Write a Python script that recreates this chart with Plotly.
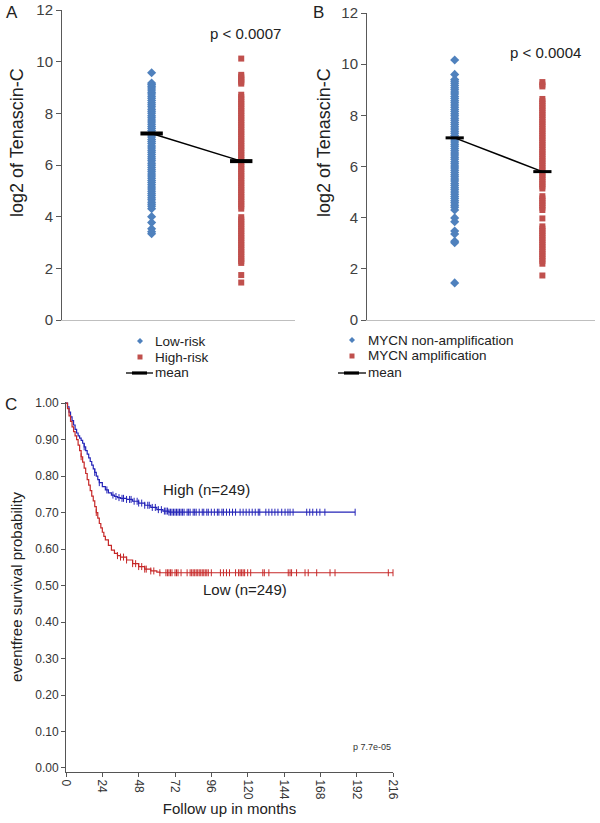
import plotly.graph_objects as go

# ---------------- Data ----------------
# Panel A: log2 Tenascin-C by risk group
lowrisk_A = [9.57, 9.17, 9.12, 9.05, 8.98, 8.9, 8.82, 8.75, 8.66, 8.58, 8.5, 8.41, 8.33, 8.25, 8.16,
             8.08, 8.0, 7.91, 7.83, 7.74, 7.66, 7.58, 7.49, 7.41, 7.33, 7.24, 7.16, 7.08, 6.99, 6.91,
             6.83, 6.74, 6.66, 6.57, 6.49, 6.41, 6.32, 6.24, 6.16, 6.07, 5.99, 5.9, 5.82, 5.74, 5.65,
             5.57, 5.49, 5.4, 5.32, 5.24, 5.15, 5.07, 4.98, 4.9, 4.82, 4.73, 4.65, 4.56, 4.48, 4.4,
             4.31, 4.0, 3.77, 3.53, 3.42, 3.34]
highrisk_A = [10.12, 9.49, 9.42, 9.35, 9.28, 9.22, 9.15, 8.72, 8.63, 8.54, 8.45, 8.36, 8.27, 8.18,
              8.09, 8.0, 7.91, 7.82, 7.73, 7.64, 7.55, 7.46, 7.37, 7.28, 7.19, 7.1, 7.01, 6.92, 6.83,
              6.74, 6.65, 6.56, 6.47, 6.38, 6.29, 6.2, 6.11, 6.02, 5.93, 5.84, 5.75, 5.66, 5.57, 5.48,
              5.39, 5.3, 5.21, 5.12, 5.03, 4.94, 4.85, 4.76, 4.67, 4.58, 4.49, 4.4, 4.31, 3.98, 3.89,
              3.8, 3.71, 3.62, 3.53, 3.44, 3.35, 3.26, 3.17, 3.08, 2.99, 2.9, 2.81, 2.72, 2.63, 2.54,
              2.45, 2.36, 2.28, 2.21, 1.74, 1.45]
means_A = [7.22, 6.15]
labels_A = ["Low-risk", "High-risk", "mean"]
pval_A = "p < 0.0007"

# Panel B: log2 Tenascin-C by MYCN status
nonamp_B = [10.16, 9.6, 9.4, 9.33, 9.25, 9.17, 9.08, 9.0, 8.91, 8.83, 8.74, 8.66, 8.57, 8.49, 8.4,
            8.32, 8.23, 8.15, 8.06, 7.98, 7.89, 7.81, 7.72, 7.64, 7.55, 7.47, 7.38, 7.3, 7.21, 7.13,
            7.04, 6.96, 6.87, 6.79, 6.7, 6.62, 6.53, 6.45, 6.36, 6.28, 6.19, 6.11, 6.02, 5.94, 5.85,
            5.77, 5.68, 5.6, 5.51, 5.43, 5.34, 5.26, 5.17, 5.09, 5.0, 4.92, 4.83, 4.75, 4.66, 4.58,
            4.49, 4.41, 4.3, 3.99, 3.84, 3.48, 3.36, 3.08, 3.02, 1.45]
amp_B = [9.3, 9.2, 9.13, 8.64, 8.55, 8.46, 8.37, 8.28, 8.19, 8.1, 8.01, 7.92, 7.83, 7.74, 7.65,
         7.56, 7.47, 7.38, 7.29, 7.2, 7.11, 7.02, 6.93, 6.84, 6.75, 6.66, 6.57, 6.48, 6.39, 6.3,
         6.21, 6.12, 6.03, 5.94, 5.85, 5.76, 5.67, 5.58, 5.49, 5.4, 5.31, 5.22, 5.14, 4.84, 4.75,
         4.66, 4.57, 4.48, 4.39, 4.3, 3.97, 3.66, 3.57, 3.48, 3.39, 3.3, 3.21, 3.12, 3.03, 2.94,
         2.85, 2.76, 2.67, 2.58, 2.49, 2.4, 2.31, 2.2, 1.74]
means_B = [7.12, 5.8]
labels_B = ["MYCN non-amplification", "MYCN amplification", "mean"]
pval_B = "p < 0.0004"

# Panel C: Kaplan-Meier event-free survival
high_times = [0, 1, 2, 3, 4, 5, 6, 7, 8, 9, 10, 11, 12, 13, 14, 15, 16, 17, 18, 19, 20, 21, 22,
              24, 26, 28, 30, 32, 34, 36, 40, 44, 48, 52, 56, 60, 64, 68, 191]
high_surv = [1.0, 0.99, 0.975, 0.962, 0.952, 0.94, 0.928, 0.918, 0.91, 0.904, 0.898, 0.89, 0.88,
             0.87, 0.86, 0.85, 0.84, 0.83, 0.82, 0.81, 0.8, 0.79, 0.782, 0.771, 0.762, 0.754,
             0.748, 0.744, 0.741, 0.739, 0.736, 0.731, 0.726, 0.72, 0.714, 0.708, 0.704, 0.701,
             0.701]
high_censor = [12, 19, 22, 27, 31, 33, 35, 37, 38, 40, 42, 43, 45, 47, 48, 50, 52, 54, 55, 57, 59,
               61, 63, 65, 66, 67, 68, 69, 70, 71, 72, 73, 74, 75, 76, 77, 78, 80, 81, 82, 84, 85,
               86, 88, 90, 91, 93, 94, 96, 98, 100, 101, 103, 104, 106, 108, 110, 112, 115, 117,
               119, 121, 123, 125, 127, 128, 132, 134, 136, 138, 140, 142.5, 144.7, 146.6, 148,
               150, 159, 161, 163, 165.6, 167.7, 171, 191]
low_times = [0, 1, 2, 3, 4, 5, 6, 7, 8, 9, 10, 11, 12, 13, 14, 15, 16, 17, 18, 19, 20, 21, 22, 23,
             24, 25, 26, 28, 30, 32, 34, 36, 40, 44, 48, 52, 56, 60, 62, 216]
low_surv = [1.0, 0.985, 0.965, 0.95, 0.935, 0.922, 0.91, 0.9, 0.885, 0.87, 0.853, 0.838, 0.822,
            0.807, 0.79, 0.775, 0.76, 0.745, 0.732, 0.716, 0.7, 0.685, 0.67, 0.658, 0.646, 0.635,
            0.625, 0.61, 0.597, 0.588, 0.582, 0.578, 0.57, 0.56, 0.552, 0.545, 0.54, 0.537,
            0.535, 0.535]
low_censor = [10, 20, 34, 36, 38, 40, 44, 46, 48, 50, 52, 53, 56, 58, 62, 66, 67, 68, 69, 70, 72,
              73, 74, 76, 80, 82, 83, 84, 85, 86, 87, 88, 89, 90, 91, 92, 93, 94, 96, 102, 104,
              106, 108, 112, 114, 115, 116, 117, 118, 120, 122, 130, 131, 134, 146.8, 148, 149,
              152.3, 157.9, 160, 165.6, 174.4, 177.7, 212.9, 216]
x_ticks_C = [0, 24, 48, 72, 96, 120, 144, 168, 192, 216]
y_ticks_C = [0.0, 0.1, 0.2, 0.3, 0.4, 0.5, 0.6, 0.7, 0.8, 0.9, 1.0]
pval_C = "p 7.7e-05"


def step_value(times, surv, t):
    v = surv[0]
    for ti, si in zip(times, surv):
        if ti <= t:
            v = si
    return v


# ---------------- Styles ----------------
FONT = "Liberation Sans, Arial, sans-serif"
BLUE = "#4F81BD"
RED = "#C0504D"
KM_BLUE = "#2424B8"
KM_RED = "#C62828"
W, H = 600, 823


def px(xp):
    return xp / W


def py(yp):
    return 1 - yp / H


fig = go.Figure()

# Panel A
fig.add_trace(go.Scatter(x=[1] * len(lowrisk_A), y=lowrisk_A, mode="markers", name=labels_A[0],
                         marker=dict(symbol="diamond", size=7, color=BLUE), xaxis="x", yaxis="y"))
fig.add_trace(go.Scatter(x=[2] * len(highrisk_A), y=highrisk_A, mode="markers", name=labels_A[1],
                         marker=dict(symbol="square", size=6, color=RED), xaxis="x", yaxis="y"))
fig.add_trace(go.Scatter(x=[1, 2], y=means_A, mode="lines+markers", name="mean",
                         line=dict(color="black", width=1.5),
                         marker=dict(symbol="line-ew", size=16, color="black",
                                     line=dict(color="black", width=4)),
                         xaxis="x", yaxis="y"))

# Panel B
fig.add_trace(go.Scatter(x=[1] * len(nonamp_B), y=nonamp_B, mode="markers", name=labels_B[0],
                         marker=dict(symbol="diamond", size=7, color=BLUE), xaxis="x2", yaxis="y2"))
fig.add_trace(go.Scatter(x=[2] * len(amp_B), y=amp_B, mode="markers", name=labels_B[1],
                         marker=dict(symbol="square", size=6, color=RED), xaxis="x2", yaxis="y2"))
fig.add_trace(go.Scatter(x=[1, 2], y=means_B, mode="lines+markers", name="mean",
                         line=dict(color="black", width=1.5),
                         marker=dict(symbol="line-ew", size=13, color="black",
                                     line=dict(color="black", width=3)),
                         xaxis="x2", yaxis="y2"))

# Panel C
fig.add_trace(go.Scatter(x=high_times, y=high_surv, mode="lines", name="High",
                         line=dict(color=KM_BLUE, width=1.2, shape="hv"),
                         xaxis="x3", yaxis="y3", cliponaxis=False))
fig.add_trace(go.Scatter(x=low_times, y=low_surv, mode="lines", name="Low",
                         line=dict(color=KM_RED, width=1.2, shape="hv"),
                         xaxis="x3", yaxis="y3", cliponaxis=False))
fig.add_trace(go.Scatter(x=high_censor, y=[step_value(high_times, high_surv, t) for t in high_censor],
                         mode="markers", name="High censored",
                         marker=dict(symbol="line-ns", size=5, color=KM_BLUE,
                                     line=dict(color=KM_BLUE, width=1)),
                         xaxis="x3", yaxis="y3", cliponaxis=False))
fig.add_trace(go.Scatter(x=low_censor, y=[step_value(low_times, low_surv, t) for t in low_censor],
                         mode="markers", name="Low censored",
                         marker=dict(symbol="line-ns", size=5, color=KM_RED,
                                     line=dict(color=KM_RED, width=1)),
                         xaxis="x3", yaxis="y3", cliponaxis=False))

tick_font_AB = dict(family=FONT, size=15, color="#404040")
xAB = dict(range=[0, 2.6], showgrid=False, zeroline=False, showticklabels=False, ticks="",
           showline=True, linecolor="#BFBFBF", linewidth=1)
yAB = dict(range=[0, 12], dtick=2, showgrid=False, zeroline=False, showline=True,
           linecolor="#595959", linewidth=1, ticks="outside", ticklen=5, tickcolor="#595959",
           tickfont=tick_font_AB)

fig.update_layout(
    width=W, height=H, margin=dict(l=0, r=0, t=0, b=0, autoexpand=False),
    paper_bgcolor="white", plot_bgcolor="white",
    font=dict(family=FONT, color="#222"),
    showlegend=False,
    xaxis=dict(domain=[px(62), px(295)], anchor="y", **xAB),
    yaxis=dict(domain=[py(320), py(10)], anchor="x", **yAB),
    xaxis2=dict(domain=[px(367), px(595)], anchor="y2", **xAB),
    yaxis2=dict(domain=[py(320), py(13)], anchor="x2", **yAB),
    xaxis3=dict(domain=[px(66), px(393)], anchor="y3", range=[0, 216], tickvals=x_ticks_C,
                tickangle=90, showgrid=False, zeroline=False, showline=True, linecolor="#555",
                ticks="outside", ticklen=4, tickcolor="#555",
                tickfont=dict(family=FONT, size=12, color="#333"),
                title=dict(text="Follow up in months", font=dict(family=FONT, size=15, color="#222"),
                           standoff=4)),
    yaxis3=dict(domain=[py(772), py(402)], anchor="x3", range=[-0.011, 1.003], tickvals=y_ticks_C,
                tickformat=".2f", showgrid=False, zeroline=False, showline=True, linecolor="#555",
                ticks="outside", ticklen=4, tickcolor="#555",
                tickfont=dict(family=FONT, size=12, color="#333"),
                title=dict(text="eventfree survival probability",
                           font=dict(family=FONT, size=15, color="#222"), standoff=8)),
)

# ---- manual legends (layout shapes + text) ----
shapes = []
annotations = []


def legend_block(x_sym, x_text, rows_y, labels, line_x0, line_x1, thick_x0, thick_x1):
    cx, cy, r = x_sym, rows_y[0], 3
    shapes.append(dict(type="path", xref="paper", yref="paper",
                       path=f"M {px(cx - r)},{py(cy)} L {px(cx)},{py(cy - r)} L {px(cx + r)},{py(cy)} L {px(cx)},{py(cy + r)} Z",
                       fillcolor=BLUE, line=dict(width=0)))
    cy2 = rows_y[1]
    shapes.append(dict(type="rect", xref="paper", yref="paper",
                       x0=px(cx - 2.5), x1=px(cx + 2.5), y0=py(cy2 + 2.5), y1=py(cy2 - 2.5),
                       fillcolor=RED, line=dict(width=0)))
    cy3 = rows_y[2]
    shapes.append(dict(type="line", xref="paper", yref="paper",
                       x0=px(line_x0), x1=px(line_x1), y0=py(cy3), y1=py(cy3),
                       line=dict(color="black", width=1.3)))
    shapes.append(dict(type="rect", xref="paper", yref="paper",
                       x0=px(thick_x0), x1=px(thick_x1), y0=py(cy3 + 1.6), y1=py(cy3 - 1.6),
                       fillcolor="black", line=dict(width=0)))
    for lab, ry in zip(labels, rows_y):
        annotations.append(dict(text=lab, x=px(x_text), y=py(ry), xref="paper", yref="paper",
                                xanchor="left", yanchor="middle", showarrow=False,
                                font=dict(family=FONT, size=13.5, color="#222")))


legend_block(140, 153, [341, 357, 373], labels_A, 126, 153, 132, 147)
legend_block(352, 366, [340, 356, 373], labels_B, 338, 366, 344, 359)


def text_ann(text, x, y, size, angle=0, color="#222", xref="paper", yref="paper",
             xanchor="center"):
    return dict(text=text, x=x, y=y, xref=xref, yref=yref, xanchor=xanchor, yanchor="middle",
                showarrow=False, textangle=angle, font=dict(family=FONT, size=size, color=color))


annotations += [
    text_ann("A", px(12), py(12), 17),
    text_ann("B", px(318), py(12), 17),
    text_ann("C", px(11), py(404), 17),
    text_ann("log2 of Tenascin-C", px(17), py(143), 18, angle=-90),
    text_ann("log2 of Tenascin-C", px(324), py(143), 18, angle=-90),
    text_ann(pval_A, px(245), py(34), 15),
    text_ann(pval_B, px(545), py(53), 15),
    text_ann("High (n=249)", 92.5, 0.762, 15, xref="x3", yref="y3"),
    text_ann("Low (n=249)", 118, 0.488, 15, xref="x3", yref="y3"),
    text_ann(pval_C, 216, 0.0575, 9, color="#333", xref="x3", yref="y3", xanchor="right"),
]
fig.update_layout(shapes=shapes, annotations=annotations)

fig.write_html("out.html", config={"displayModeBar": False},
               post_script="document.body.style.margin='0px';")
